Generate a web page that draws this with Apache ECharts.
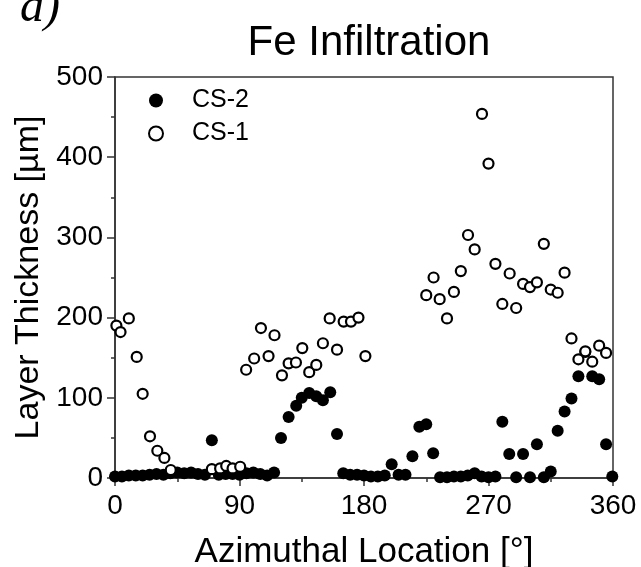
<!DOCTYPE html>
<html><head><meta charset="utf-8">
<script src="https://cdn.jsdelivr.net/npm/echarts@6/dist/echarts.min.js"></script>
<style>html,body{margin:0;padding:0;background:#fff}#c{width:641px;height:567px}</style>
</head><body><div id="c"></div>
<script>
const title = "Fe Infiltration";
const xName = "Azimuthal Location [°]";
const yName = "Layer Thickness [µm]";
const xTicks = [0, 90, 180, 270, 360];
const yTicks = [0, 100, 200, 300, 400, 500];
const cs2 = [[0,2],[5,2],[10,3],[15,3],[20,3],[25,4],[30,5],[35,4],[40,6],[45,7],[50,6],[55,7],[60,5],[65,4],[70,47],[75,4],[80,5],[85,5],[90,4],[95,6],[100,7],[105,5],[110,3],[115,7],
[120,50],[125.5,76],[131,90],[135,100],[140.4,106],[145.5,102],[150.3,97],[155.6,107],[160.5,55],[165,6],[170,4],[175,4],[180,3],[185,2],[190,2],[195,3],[200,17],[205,4],[210,4],[215,27],[220,64],[225,67],[230,31],[235,1],[240,1],[245,2],[250,2],[255,3],[260,6],[265,2],[270,1],[275,2],[280,70],[285,30],[290,1],[295,30],[300,1],[305,42],[310,1],[315,8],[320,59],[325,83],[330,99],[335,127],[340,157],[345,127],[350,123],[355,42],[359.5,2]];
const cs1 = [[1,190],[4,182],[10,199],[15.7,151],[20,105],[25.3,52],[30.6,34],[35.7,25],[40.3,10],[70,11],[76,12],[80.4,15],[85,12],[90.5,14],[94.8,135],[100.6,149],[105.5,187],[111,152],[115.3,178],[120.7,128],[125.5,143],[130.8,144],[135.4,162],[140.4,132],[145.5,141],[150.3,168],[155.2,199],[160.5,160],[165.3,195],[170.6,195],[176,200],[181,152],
[225,228],[230.3,250],[234.7,223],[240,199],[245,232],[250,258],[255.2,303],[260,285],[265.3,454],[270,392],[275,267],[280,217],[285.3,255],[290,212],[295,242],[300,238],[305,244],[310,292],[315,235],[320,231],[325,256],[330,174],[335,148],[340,158],[345,145],[350,165],[355,156]];

const FONT = "Liberation Sans, Arial, sans-serif";
const AX = '#333';
const chart = echarts.init(document.getElementById('c'), null, {renderer:'canvas'});
chart.setOption({
  backgroundColor:'#fff',
  animation:false,
  title:{text:title,left:364,top:17,textAlign:'center',textStyle:{fontFamily:FONT,fontSize:42,fontWeight:'normal',color:'#000'}},
  graphic:[{type:'text',left:20,top:-16,style:{text:'a)',font:'italic 48px "Liberation Serif", serif',fill:'#000'}}],
  grid:{left:115,right:28,top:77,bottom:89,containLabel:false,outerBoundsMode:'none',show:true,borderColor:AX,borderWidth:1.5,backgroundColor:'transparent'},
  legend:{left:143,top:83,orient:'vertical',itemGap:8,itemWidth:14,itemHeight:14,
    textStyle:{fontFamily:FONT,fontSize:25,color:'#000',padding:[0,0,0,24]},
    data:[{name:'CS-2',icon:'circle'},{name:'CS-1',icon:'circle'}]},
  xAxis:{type:'value',min:0,max:360,interval:90,name:xName,nameLocation:'middle',nameGap:57,
    nameTextStyle:{fontFamily:FONT,fontSize:35,color:'#000'},
    axisLine:{lineStyle:{color:AX,width:1.5}},
    axisTick:{show:true,inside:false,length:8,lineStyle:{color:AX,width:1.5}},
    minorTick:{show:true,splitNumber:2,length:4,lineStyle:{color:AX,width:1.5}},
    axisLabel:{fontFamily:FONT,fontSize:28,color:'#000',margin:14,
      formatter:v=>xTicks.includes(v)?String(v):''},
    splitLine:{show:false}},
  yAxis:{type:'value',min:0,max:500,interval:100,name:yName,nameLocation:'middle',nameGap:63,
    nameTextStyle:{fontFamily:FONT,fontSize:34,color:'#000'},
    axisLine:{show:true,lineStyle:{color:AX,width:1.5}},
    axisTick:{show:true,inside:false,length:8,lineStyle:{color:AX,width:1.5}},
    minorTick:{show:true,splitNumber:2,length:4,lineStyle:{color:AX,width:1.5}},
    axisLabel:{fontFamily:FONT,fontSize:28,color:'#000',margin:12,
      formatter:v=>yTicks.includes(v)?String(v):''},
    splitLine:{show:false}},
  series:[
    {name:'CS-2',type:'scatter',data:cs2,symbol:'circle',symbolSize:12,
     itemStyle:{color:'#000',opacity:1},z:2},
    {name:'CS-1',type:'scatter',data:cs1,symbol:'circle',symbolSize:10,
     itemStyle:{color:'#fff',borderColor:'#000',borderWidth:2.2,opacity:1},z:3}
  ]
});
</script></body></html>
